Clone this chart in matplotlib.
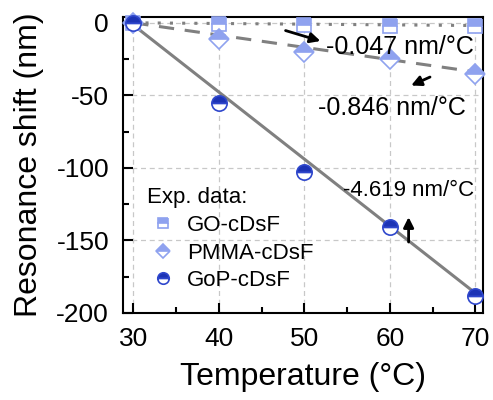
import matplotlib
matplotlib.use("Agg")
import matplotlib.pyplot as plt
import numpy as np

plt.rcParams['font.family'] = ['Liberation Sans', 'DejaVu Sans']
plt.rcParams['axes.unicode_minus'] = False

temps = [30, 40, 50, 60, 70]
go_vals = [0, -1, -1.5, -2, -2]
pmma_vals = [0, -11, -20, -25, -35]
gop_vals = [0, -55, -103, -141, -188]

slopes = {'GO': -0.047, 'PMMA': -0.846, 'GoP': -4.619}
intercepts = {'GO': 0.0, 'PMMA': 0.0, 'GoP': -1.5}

light = '#8fa2ef'
dark = '#1c33b5'
edge_dark = '#2f47cc'

fig = plt.figure(figsize=(4.93, 4.0), dpi=100)
ax = fig.add_axes([123/493, 1-313/400, (483-123)/493, (313-17)/400])

xf = np.array([30, 70])
ax.plot(xf, slopes['GO']*(xf-30)+intercepts['GO'], color='#808080', ls=(0, (1, 3)), lw=2.2, zorder=2)
ax.plot(xf, slopes['PMMA']*(xf-30)+intercepts['PMMA'], color='#808080', ls=(0, (5, 3.5)), lw=2.2, zorder=2)
ax.plot(xf, slopes['GoP']*(xf-30)+intercepts['GoP'], color='#808080', ls='-', lw=2.2, zorder=2)

mk = dict(ls='none', fillstyle='top', markerfacecoloralt='white', clip_on=False, zorder=3)
ax.plot(temps, go_vals, marker='s', ms=10, mfc=light, mec=light, mew=1.2, label='GO-cDsF', **mk)
ax.plot(temps, pmma_vals, marker='D', ms=10, mfc=light, mec=light, mew=1.2, label='PMMA-cDsF', **mk)
ax.plot(temps, gop_vals, marker='o', ms=11, mfc=dark, mec=edge_dark, mew=1.2, label='GoP-cDsF', **mk)

ax.set_xlim(28.8, 70.9)
ax.set_ylim(-200, 4)
ax.set_xticks([30, 40, 50, 60, 70])
ax.set_xticks([35, 45, 55, 65], minor=True)
ax.set_yticks([0, -50, -100, -150, -200])
ax.set_yticks([-25, -75, -125, -175], minor=True)
ax.tick_params(which='both', direction='in', width=1.5, labelsize=19)
ax.tick_params(which='major', length=7)
ax.tick_params(axis='x', which='major', pad=10)
ax.tick_params(axis='y', which='major', pad=10)
ax.tick_params(which='minor', length=4)
ax.grid(True, which='major', color='#c8c8c8', ls=(0, (4, 3)), lw=0.9)
for s in ax.spines.values():
    s.set_linewidth(1.5)

ax.set_xlabel('Temperature (°C)', fontsize=23, labelpad=8)
ax.set_ylabel('Resonance shift (nm)', fontsize=23, labelpad=9)

ap = dict(arrowstyle='-|>,head_length=0.6,head_width=0.3', color='black', lw=2)
ax.annotate('', xy=(52.2, -13.1), xytext=(47.5, -4.8), arrowprops=ap)
ax.text(61.2, -16.5, '-0.047 nm/°C', fontsize=18, ha='center', va='center')
ax.annotate('', xy=(62.2, -44), xytext=(65, -36.6), arrowprops=ap)
ax.text(60.3, -58.5, '-0.846 nm/°C', fontsize=18, ha='center', va='center')
ax.annotate('', xy=(62.2, -132), xytext=(62.2, -153), arrowprops=ap)
ax.text(62.2, -115.5, '-4.619 nm/°C', fontsize=16, ha='center', va='center')

leg = ax.legend(title='Exp. data:', loc='upper left', bbox_to_anchor=(0.03, 0.47),
                frameon=False, fontsize=16, title_fontsize=16, handletextpad=0.4,
                handlelength=1.4, labelspacing=0.3, borderaxespad=0.2, markerscale=0.75)
leg._legend_box.align = 'left'

fig.savefig('out.png', dpi=100)
